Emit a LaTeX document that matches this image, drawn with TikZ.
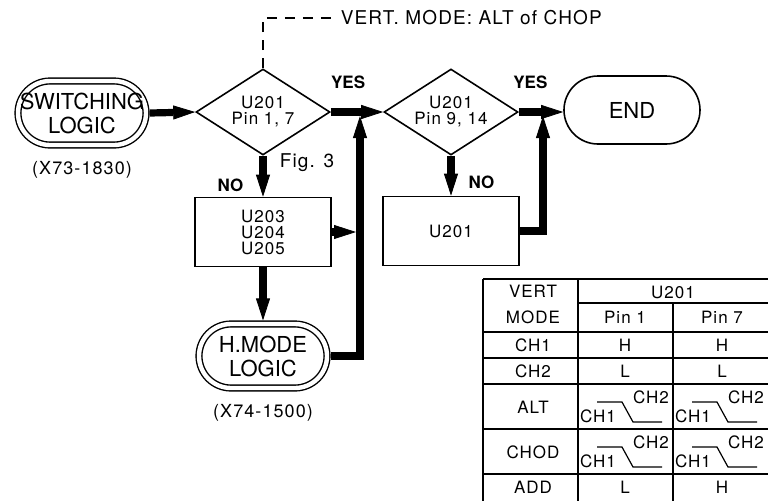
\documentclass[tikz,border=0pt]{standalone}
\usepackage{fontspec}
\setmainfont{TeX Gyre Heros}
\newfontfamily\spaced{TeX Gyre Heros}[LetterSpace=6]
\usetikzlibrary{arrows.meta, positioning, shapes.geometric}

\begin{document}
\begin{tikzpicture}[x=0.5pt, y=-0.5pt, line width=0.8pt,
    flow/.style={line width=3.6pt, -{Triangle[length=11pt, width=7pt, line width=0.4pt]}},
    term/.style={draw, double, double distance=2.2pt, line width=0.7pt, rounded corners=16pt,
      minimum width=64pt, minimum height=32pt, inner sep=0pt, outer sep=1.8pt, align=center,
      font=\fontsize{11}{12}\selectfont},
    stop/.style={draw, rounded corners=17pt, minimum width=68pt, minimum height=34pt,
      inner sep=0pt, font=\fontsize{11}{12}\selectfont},
    test/.style={draw, diamond, aspect=1.6, minimum width=67pt, minimum height=43pt,
      inner sep=0pt, align=center, font=\spaced\fontsize{8.5}{8}\selectfont},
    unit/.style={draw, minimum width=68pt, minimum height=34.5pt, align=center,
      font=\spaced\fontsize{8.5}{8}\selectfont},
    lbl/.style={inner sep=1pt, font=\bfseries\fontsize{8.5}{10}\selectfont},
    ref/.style={inner sep=1pt, font=\spaced\fontsize{9}{10}\selectfont},
    note/.style={inner sep=1pt, font=\spaced\fontsize{9.5}{10}\selectfont},
    chop/.style={line width=0.7pt, dash pattern=on 5pt off 4pt},
    frame/.style={line width=1.4pt},
    grid/.style={line width=0.6pt},
    cell/.style={inner sep=0pt, font=\spaced\fontsize{8.5}{9}\selectfont}]
  \useasboundingbox (0,0) rectangle (768,500);
  % ---- flow chart ----
  \node[term] (sw) at (82,113) {SWITCHING\\LOGIC};
  \node[ref, below=5pt of sw] (sw-ref) {(X73-1830)};
  \node[test] (d1) at (263,112) {U201\\Pin 1, 7};
  \node[test] (d2) at (451,112) {U201\\Pin 9, 14};
  \node[stop] (endn) at (632,110) {END};
  \node[unit] (b1) at (263,232) {U203\\U204\\U205};
  \node[unit] (b2) at (451,231) {U201};
  \node[term] (hm) at (263,356) {H.MODE\\LOGIC};
  \node[ref, below=5pt of hm] (hm-ref) {(X74-1500)};
  \node[note, anchor=west] (vert) at (338,18) {VERT. MODE: ALT of CHOP};
  \node[note] (fig) at (307,163) {Fig. 3};
  \coordinate (up1) at (360,116);
  \coordinate (up2) at (543,116);
  \coordinate (in1) at (356,232);
  \draw[chop] (d1.north) |- (vert.west);
  \draw[flow] (sw.east) -- (d1.west);
  \draw[flow] (d1.east) -- node[lbl, above=9pt, pos=0.33] {YES} (d2.west);
  \draw[flow] (d2.east) -- node[lbl, above=9pt, pos=0.26] {YES} (d2.east -| endn.west);
  \draw[flow] (d1.south) -- node[lbl, left=7pt, pos=0.72] {NO} (b1.north);
  \draw[flow] (d2.south) -- node[lbl, right=6pt, pos=0.67] {NO} (b2.north);
  \draw[flow] (b1.south) -- (hm.north);
  \draw[flow] (b1.east) -- (in1);
  \draw[flow] (hm.east) -| (up1);
  \draw[flow] (b2.east) -| (up2);
  % ---- table: U201 pin states ----
  \draw[frame] (483,279) -- (775,279);
  \draw[frame] (483,279) -- (483,505);
  \draw[frame] (578,279) -- (578,505);
  \draw[frame] (483,332) -- (775,332);
  \draw[grid] (578,303) -- (775,303);
  \draw[grid] (673,303) -- (673,505);
  \foreach \ry in {358,384,429,474}
    \draw[grid] (483,\ry) -- (775,\ry);
  \node[cell] (t-vert) at (533,291) {VERT};
  \node[cell] (t-mode) at (533,317) {MODE};
  \node[cell] (t-u201) at (673,292) {U201};
  \node[cell] (t-pin1) at (625,317) {Pin 1};
  \node[cell] (t-pin7) at (722,317) {Pin 7};
  \foreach \name/\ry/\pa/\pb in {CH1/345/H/H, CH2/371/L/L, ADD/487/L/H} {
    \node[cell] (t-\name) at (533,\ry) {\name};
    \node[cell] (t-\name-a) at (625,\ry) {\pa};
    \node[cell] (t-\name-b) at (722,\ry) {\pb};
  }
  \node[cell] (t-alt) at (533,407) {ALT};
  \node[cell] (t-chod) at (533,452) {CHOD};
  \foreach \cx in {578,673}
    \foreach \ry in {384,429} {
      \draw[grid] (\cx+19,\ry+18) -- (\cx+44,\ry+18) -- (\cx+55,\ry+38) -- (\cx+84,\ry+38);
      \node[cell] (w-\cx-\ry-hi) at (\cx+73,\ry+13) {CH2};
      \node[cell] (w-\cx-\ry-lo) at (\cx+20,\ry+32) {CH1};
    }
\end{tikzpicture}
\end{document}
